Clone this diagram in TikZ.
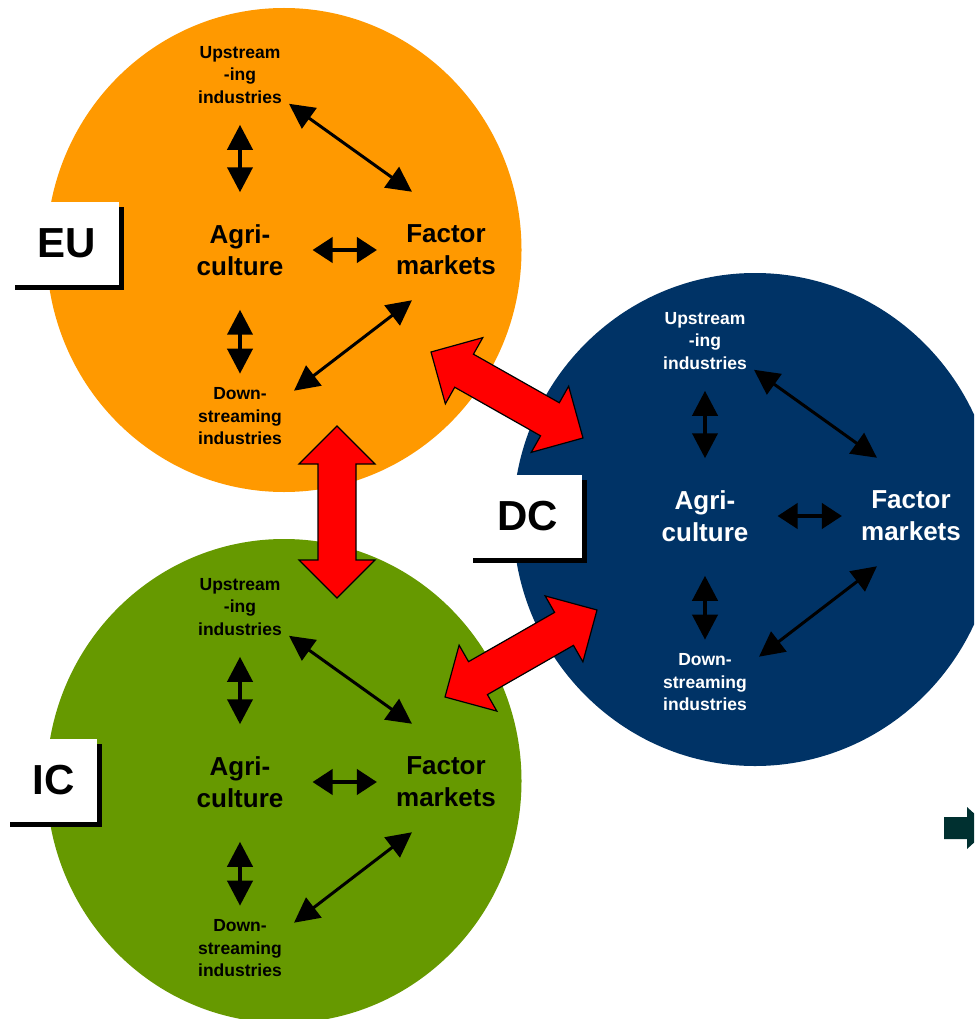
\documentclass[tikz,border=0pt]{standalone}
\usepackage{fontspec}
\setmainfont{Liberation Sans}
\usetikzlibrary{arrows.meta,calc,shapes.geometric}

\definecolor{euorange}{RGB}{255,153,0}
\definecolor{dcnavy}{RGB}{0,51,102}
\definecolor{icgreen}{RGB}{102,153,0}
\definecolor{darkteal}{RGB}{0,48,48}

\tikzset{
  region/.style={ellipse,inner sep=0pt},
  small/.style={font=\bfseries\fontsize{17.5}{22.5}\selectfont,align=center,inner sep=0pt},
  big/.style={font=\bfseries\fontsize{26}{32}\selectfont,align=center,inner sep=0pt},
  vlink/.style={line width=4pt,{Triangle[length=25pt,width=25pt]}-{Triangle[length=25pt,width=25pt]}},
  hlink/.style={line width=4pt,{Triangle[length=20pt,width=25pt]}-{Triangle[length=20pt,width=25pt]}},
  dlink/.style={line width=3pt,{Triangle[length=25pt,width=25pt]}-{Triangle[length=25pt,width=25pt]}},
  tag/.style={fill=white,inner sep=0pt,minimum height=83pt,font=\bfseries\fontsize{42}{42}\selectfont},
  tagshadow/.style={fill=black,inner sep=0pt,minimum height=83pt},
  redlink/.style={fill=red,draw=black,line width=1.2pt,line join=miter}
}

\newcommand\redlink[2]{%
  \filldraw[redlink] (#1)
    -- ($(#1)!38pt!(#2)!38pt!90:(#2)$)
    -- ($(#1)!38pt!(#2)!19pt!90:(#2)$)
    -- ($(#2)!38pt!(#1)!19pt!-90:(#1)$)
    -- ($(#2)!38pt!(#1)!38pt!-90:(#1)$)
    -- (#2)
    -- ($(#2)!38pt!(#1)!38pt!90:(#1)$)
    -- ($(#2)!38pt!(#1)!19pt!90:(#1)$)
    -- ($(#1)!38pt!(#2)!19pt!-90:(#2)$)
    -- ($(#1)!38pt!(#2)!38pt!-90:(#2)$)
    -- cycle;}

\begin{document}
\begin{tikzpicture}[x=1pt,y=-1pt]
  \useasboundingbox (0,0) rectangle (974,1019);
  \clip (0,0) rectangle (974,1019);

  \node[region,minimum width=475pt,minimum height=484pt,fill=euorange] (eu) at (284,250) {};
  \node[region,minimum width=484pt,minimum height=493pt,fill=dcnavy] (dc) at (755,519.5) {};
  \node[region,minimum width=475pt,minimum height=484pt,fill=icgreen] (ic) at (284,781) {};

  \foreach \n/\t/\x/\y/\w in {eu/EU/67/243.5/104, dc/DC/527.5/516.5/109, ic/IC/53.5/780.5/87} {
    \node[tagshadow,minimum width=\w+5] at (\x+2.5,\y+5) {};
    \node[tag,minimum width=\w] (\n-tag) at (\x,\y) {\t};
  }

  \coordinate (eu-s) at (337,426);
  \coordinate (ic-n) at (337,598);
  \coordinate (eu-se) at (431,352);
  \coordinate (dc-nw) at (583,438);
  \coordinate (ic-ne) at (445,697);
  \coordinate (dc-sw) at (597,610);
  \redlink{eu-s}{ic-n}
  \redlink{eu-se}{dc-nw}
  \redlink{ic-ne}{dc-sw}

  \foreach \g/\dx/\dy/\tc in {eu/0/0/black, dc/465/266/white, ic/0/532/black} {
    \begin{scope}[shift={(\dx,\dy)},text=\tc]
      \node[small] (\g-up) at (240,75) {Upstream\\-ing\\industries};
      \node[big] (\g-ag) at (240,250) {Agri-\\culture};
      \node[big] (\g-fm) at (446,250) {Factor\\markets};
      \node[small] (\g-dn) at (240,416.5) {Down-\\streaming\\industries};
      \draw[vlink,shorten <=21pt,shorten >=32pt] (\g-up.south) -- (\g-ag.north);
      \draw[vlink,shorten <=34pt,shorten >=14pt] (\g-ag.south) -- (\g-dn.north);
      \draw[hlink,shorten <=29pt,shorten >=19pt] (\g-ag.east) -- (\g-fm.west);
      \draw[dlink] ([xshift=7pt]\g-up.south east) -- ([xshift=16pt,yshift=33pt]\g-fm.north west);
      \draw[dlink] ([xshift=16pt,yshift=-25pt]\g-fm.south west) -- ([xshift=12pt,yshift=-3pt]\g-dn.north east);
    \end{scope}
  }

  \fill[darkteal] (944,817) -- (967,817) -- (967,807) -- (990,828) -- (967,849) -- (967,839) -- (944,839) -- cycle;
\end{tikzpicture}
\end{document}
